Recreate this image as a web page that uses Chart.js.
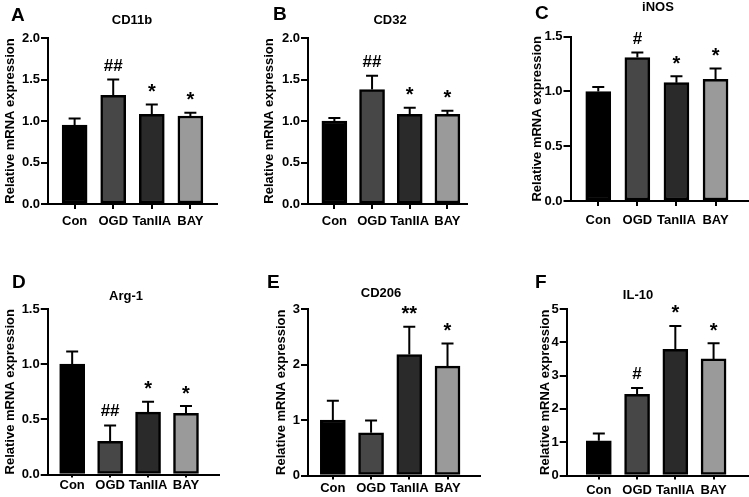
<!DOCTYPE html>
<html>
<head>
<meta charset="utf-8">
<script src="https://cdn.jsdelivr.net/npm/chart.js@4.4.0/dist/chart.umd.min.js"></script>
<style>
  html, body { margin: 0; padding: 0; background: #fff; }
  #wrap { position: relative; width: 749px; height: 497px; overflow: hidden; }
  #wrap canvas { position: absolute; left: 0; top: 0; }
</style>
</head>
<body>
<div id="wrap"></div>
<script>
// groups on the x axis
const GROUPS = ['Con', 'OGD', 'TanIIA', 'BAY'];

// mean and upper error (SD) per panel
const CD11B_MEAN = [0.95, 1.31, 1.08, 1.06];
const CD11B_SD   = [0.08, 0.19, 0.12, 0.04];
const CD11B_SIG  = ['', '##', '*', '*'];

const CD32_MEAN = [1.00, 1.38, 1.08, 1.08];
const CD32_SD   = [0.035, 0.165, 0.08, 0.045];
const CD32_SIG  = ['', '##', '*', '*'];

const INOS_MEAN = [1.00, 1.31, 1.08, 1.11];
const INOS_SD   = [0.04, 0.045, 0.06, 0.10];
const INOS_SIG  = ['', '#', '*', '*'];

const ARG1_MEAN = [1.00, 0.30, 0.565, 0.555];
const ARG1_SD   = [0.115, 0.145, 0.095, 0.065];
const ARG1_SIG  = ['', '##', '*', '*'];

const CD206_MEAN = [1.00, 0.77, 2.18, 1.97];
const CD206_SD   = [0.345, 0.22, 0.50, 0.41];
const CD206_SIG  = ['', '', '**', '*'];

const IL10_MEAN = [1.04, 2.44, 3.79, 3.50];
const IL10_SD   = [0.22, 0.19, 0.70, 0.47];
const IL10_SIG  = ['', '#', '*', '*'];

// y tick labels
const Y_TICKS_2 = [0, 0.5, 1.0, 1.5, 2.0];
const Y_TICKS_15 = [0, 0.5, 1.0, 1.5];
const Y_TICKS_3 = [0, 1, 2, 3];
const Y_TICKS_5 = [0, 1, 2, 3, 4, 5];

const FONT = '"Liberation Sans", Arial, sans-serif';
const BAR_COLORS = ['#000000', '#474747', '#2a2a2a', '#9a9a9a'];
const X_AXIS_H = 30;
const CAP = 12;

const panels = [
  { letter: 'A', title: 'CD11b', mean: CD11B_MEAN, sd: CD11B_SD, sig: CD11B_SIG, yTicks: Y_TICKS_2, dec: 1,
    box: { left: 48, right: 217, top: 38, bottom: 204, xMin: -0.69, xMax: 3.69, yTitleX: 10.5,
           xTick: 5, xPad: 5, titleX: 132, titleY: 20.5, letterX: 11, letterY: 21 } },
  { letter: 'B', title: 'CD32', mean: CD32_MEAN, sd: CD32_SD, sig: CD32_SIG, yTicks: Y_TICKS_2, dec: 1,
    box: { left: 308, right: 467, top: 38, bottom: 204, xMin: -0.70, xMax: 3.52, yTitleX: 269.5,
           xTick: 5, xPad: 5, titleX: 390, titleY: 20.5, letterX: 273, letterY: 20 } },
  { letter: 'C', title: 'iNOS', mean: INOS_MEAN, sd: INOS_SD, sig: INOS_SIG, yTicks: Y_TICKS_15, dec: 1,
    box: { left: 570.5, right: 748, top: 36.7, bottom: 201, xMin: -0.71, xMax: 3.83, yTitleX: 537,
           xTick: 5, xPad: 7, titleX: 658, titleY: 7.5, letterX: 535, letterY: 19 } },
  { letter: 'D', title: 'Arg-1', mean: ARG1_MEAN, sd: ARG1_SD, sig: ARG1_SIG, yTicks: Y_TICKS_15, dec: 1,
    box: { left: 47.7, right: 219, top: 309, bottom: 474.5, xMin: -0.645, xMax: 3.87, yTitleX: 10.3,
           xTick: 3, xPad: 0, titleX: 126, titleY: 296, letterX: 12, letterY: 288 } },
  { letter: 'E', title: 'CD206', mean: CD206_MEAN, sd: CD206_SD, sig: CD206_SIG, yTicks: Y_TICKS_3, dec: 0,
    box: { left: 308, right: 480, top: 309, bottom: 475.5, xMin: -0.65, xMax: 3.85, yTitleX: 281,
           xTick: 4, xPad: 1.5, titleX: 381, titleY: 293, letterX: 267, letterY: 287.5 } },
  { letter: 'F', title: 'IL-10', mean: IL10_MEAN, sd: IL10_SD, sig: IL10_SIG, yTicks: Y_TICKS_5, dec: 0,
    box: { left: 566.7, right: 748, top: 309, bottom: 475.5, xMin: -0.84, xMax: 3.9, yTitleX: 545.5,
           xTick: 4, xPad: 3.5, titleX: 638, titleY: 295, letterX: 535, letterY: 287.5 } }
];

const wrap = document.getElementById('wrap');

function makePanel(p) {
  const canvas = document.createElement('canvas');
  canvas.width = 749;
  canvas.height = 497;
  wrap.appendChild(canvas);

  const b = p.box;
  const padLeft = b.yTitleX - 7.8;
  const axisLine = { color: '#000', width: 2 };
  const tickFont = { family: FONT, size: 13, weight: 'bold' };

  // error bars, significance marks, gene title, panel letter
  const decor = {
    id: 'decor',
    afterDatasetsDraw(chart) {
      const ctx = chart.ctx;
      const ys = chart.scales.y;
      const meta = chart.getDatasetMeta(0);
      ctx.save();
      ctx.strokeStyle = '#000';
      ctx.fillStyle = '#000';
      ctx.lineWidth = 2;
      ctx.textAlign = 'center';
      ctx.textBaseline = 'alphabetic';
      meta.data.forEach((bar, i) => {
        const yTop = ys.getPixelForValue(p.mean[i] + p.sd[i]);
        ctx.beginPath();
        ctx.moveTo(bar.x, bar.y);
        ctx.lineTo(bar.x, yTop);
        ctx.moveTo(bar.x - CAP / 2, yTop);
        ctx.lineTo(bar.x + CAP / 2, yTop);
        ctx.stroke();
        const mark = p.sig[i];
        if (!mark) return;
        if (mark[0] === '#') {
          ctx.font = 'bold 17px ' + FONT;
          ctx.fillText(mark, bar.x, yTop - 9);
        } else {
          ctx.font = 'bold 20px ' + FONT;
          ctx.fillText(mark, bar.x, yTop - 6.5);
        }
      });
      ctx.font = 'bold 13px ' + FONT;
      ctx.textBaseline = 'middle';
      ctx.fillText(p.title, b.titleX, b.titleY);
      ctx.font = 'bold 19px ' + FONT;
      ctx.textAlign = 'left';
      ctx.textBaseline = 'alphabetic';
      ctx.fillText(p.letter, b.letterX, b.letterY);
      ctx.restore();
    }
  };

  return new Chart(canvas, {
    type: 'bar',
    data: {
      datasets: [{
        data: p.mean.map((v, i) => ({ x: i, y: v })),
        backgroundColor: BAR_COLORS,
        borderColor: '#000',
        borderWidth: 2.5,
        borderSkipped: false,
        barThickness: 25
      }]
    },
    options: {
      responsive: false,
      animation: false,
      events: [],
      layout: {
        padding: { left: padLeft, top: b.top, right: 749 - b.right, bottom: 497 - b.bottom - X_AXIS_H }
      },
      plugins: { legend: { display: false }, tooltip: { enabled: false }, title: { display: false } },
      scales: {
        x: {
          type: 'linear',
          offset: false,
          min: b.xMin,
          max: b.xMax,
          afterBuildTicks: s => { s.ticks = GROUPS.map((_, i) => ({ value: i })); },
          afterFit: s => { s.height = X_AXIS_H; },
          grid: { offset: false, drawOnChartArea: false, drawTicks: true, tickLength: b.xTick, color: '#000', lineWidth: 2 },
          border: axisLine,
          ticks: {
            autoSkip: false, maxRotation: 0, minRotation: 0, padding: b.xPad,
            color: '#000', font: tickFont,
            callback: v => GROUPS[v]
          }
        },
        y: {
          min: p.yTicks[0],
          max: p.yTicks[p.yTicks.length - 1],
          afterBuildTicks: s => { s.ticks = p.yTicks.map(v => ({ value: v })); },
          afterFit: s => { s.width = b.left - padLeft; },
          grid: { drawOnChartArea: false, drawTicks: true, tickLength: 7, color: '#000', lineWidth: 2 },
          border: axisLine,
          ticks: {
            padding: 1, color: '#000', font: tickFont,
            callback: v => Number(v).toFixed(p.dec)
          },
          title: {
            display: true, text: 'Relative mRNA expression', padding: 0,
            color: '#000', font: { family: FONT, size: 13, weight: 'bold' }
          }
        }
      }
    },
    plugins: [decor]
  });
}

panels.forEach(makePanel);
</script>
</body>
</html>
